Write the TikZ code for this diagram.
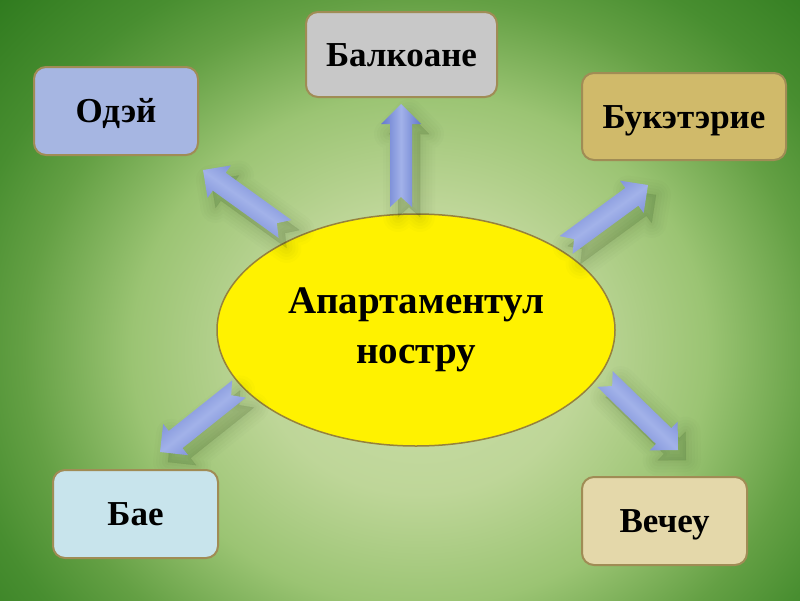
\documentclass[tikz,border=0pt]{standalone}
\usepackage{fontspec}
\setmainfont{Liberation Serif}
\usetikzlibrary{calc,shapes.geometric}
\definecolor{bga}{RGB}{202,221,168}
\definecolor{bgb}{RGB}{190,214,152}
\definecolor{bgm}{RGB}{155,196,115}
\definecolor{bgd}{RGB}{100,160,68}
\definecolor{bge}{RGB}{72,142,48}
\definecolor{bgf}{RGB}{44,120,28}
\definecolor{odejfill}{RGB}{166,182,226}
\definecolor{balkfill}{RGB}{200,200,200}
\definecolor{bukfill}{RGB}{208,186,106}
\definecolor{baefill}{RGB}{200,228,236}
\definecolor{vechfill}{RGB}{228,216,170}
\definecolor{boxborder}{RGB}{160,140,85}
\definecolor{ellborder}{RGB}{150,130,60}
\definecolor{arredge}{RGB}{100,120,205}
\definecolor{arrlight}{RGB}{162,178,233}
\definecolor{shadowc}{RGB}{30,55,15}
\pgfdeclareradialshading{bgshade}{\pgfpoint{0bp}{0bp}}{%
  color(0bp)=(bga); color(9bp)=(bgb); color(16bp)=(bgm);
  color(22bp)=(bgd); color(26bp)=(bge); color(33bp)=(bgf)}
\tikzset{
  infobox/.style={draw=boxborder, line width=2pt, rounded corners=12pt,
    inner sep=0pt, text height=23pt, text depth=0pt,
    font=\fontsize{35}{40}\selectfont\bfseries},
  centre/.style={ellipse, draw=ellborder, line width=1.5pt, fill=yellow,
    inner sep=0pt, minimum width=398pt, minimum height=232pt, align=center,
    font=\fontsize{39}{50}\selectfont\bfseries},
  arrowshade/.style={left color=arredge, right color=arredge, middle color=arrlight},
  arrowshadow/.style={fill=shadowc, draw=shadowc, line join=round}
}
\newcommand\blockarrow[4]{%
  \coordinate (#1-a) at #2;
  \coordinate (#1-b) at #3;
  \coordinate (#1-h) at ($(#1-b)!20pt!(#1-a)$);
  \coordinate (#1-n) at ($(#1-a)!10pt!(#1-b)$);
  \coordinate (#1-1) at ($(#1-a)!11pt!90:(#1-b)$);
  \coordinate (#1-2) at ($(#1-h)!11pt!90:(#1-b)$);
  \coordinate (#1-3) at ($(#1-h)!20pt!90:(#1-b)$);
  \coordinate (#1-4) at ($(#1-h)!20pt!-90:(#1-b)$);
  \coordinate (#1-5) at ($(#1-h)!11pt!-90:(#1-b)$);
  \coordinate (#1-6) at ($(#1-a)!11pt!-90:(#1-b)$);
  \foreach \lw/\op in {30/0.015,24/0.02,18/0.02,12/0.025,6/0.025,1/0.03}{%
    \filldraw[arrowshadow, line width=\lw pt, fill opacity=\op, draw opacity=\op,
      transform canvas={shift={(8pt,-10pt)}}]
      (#1-1) -- (#1-2) -- (#1-3) -- (#1-b) -- (#1-4) -- (#1-5) -- (#1-6) -- (#1-n) -- cycle;
  }
  \shade[arrowshade, shading angle=#4]
    (#1-1) -- (#1-2) -- (#1-3) -- (#1-b) -- (#1-4) -- (#1-5) -- (#1-6) -- (#1-n) -- cycle;
}
\begin{document}
\begin{tikzpicture}[x=1pt,y=-1pt]
\useasboundingbox (0,0) rectangle (800,600);
\begin{scope}
  \clip (0,0) rectangle (800,600);
  \shade[shading=bgshade] (-30,-50) rectangle (870,750);
\end{scope}

\node[centre] (c) at (416,330) {Апартаментул\\ностру};

\blockarrow{aul}{(285,229)}{(203,170)}{145}
\blockarrow{aup}{(401,207)}{(401,104)}{90}
\blockarrow{aur}{(566,245)}{(648,185)}{36}
\blockarrow{adl}{(239,389)}{(160,452)}{39}
\blockarrow{adr}{(605,379)}{(678,450)}{-44}

\node[infobox, fill=odejfill, minimum width=164pt, minimum height=88pt] (odej) at (116,111) {Одэй};
\node[infobox, fill=balkfill, minimum width=191pt, minimum height=85pt] (balk) at (401.5,54.5) {Балкоане};
\node[infobox, fill=bukfill, minimum width=204pt, minimum height=87pt] (buk) at (684,116.5) {Букэтэрие};
\node[infobox, fill=baefill, minimum width=165pt, minimum height=88pt] (bae) at (135.5,514) {Бае};
\node[infobox, fill=vechfill, minimum width=165pt, minimum height=88pt] (vech) at (664.5,521) {Вечеу};
\end{tikzpicture}
\end{document}
